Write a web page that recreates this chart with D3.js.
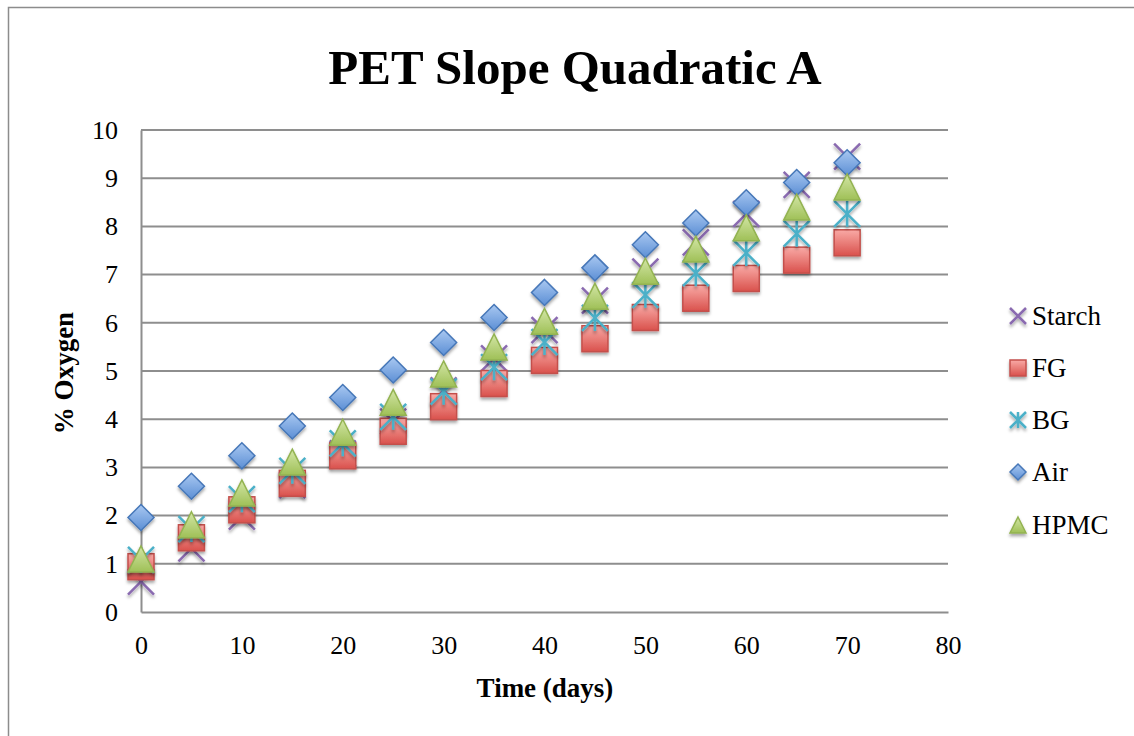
<!DOCTYPE html>
<html>
<head>
<meta charset="utf-8">
<script src="https://cdn.jsdelivr.net/npm/d3@7"></script>
<style>
  html, body { margin: 0; padding: 0; background: #fff; overflow: hidden; }
  text { font-family: "Liberation Serif", "DejaVu Serif", serif; fill: #000; }
</style>
</head>
<body>
<svg id="chart" width="1134" height="736"></svg>
<script>
// PET Slope Quadratic A - scatter of % oxygen over time

const days = [0, 5, 10, 15, 20, 25, 30, 35, 40, 45, 50, 55, 60, 65, 70];
const starch = [0.63, 1.32, 1.98, 2.63, 3.29, 3.95, 4.60, 5.26, 5.85, 6.46, 7.06, 7.67, 8.26, 8.86, 9.45];
const fg     = [0.94, 1.54, 2.12, 2.67, 3.24, 3.75, 4.26, 4.74, 5.22, 5.67, 6.11, 6.51, 6.92, 7.30, 7.66];
const bg     = [1.08, 1.72, 2.34, 2.93, 3.50, 4.05, 4.57, 5.08, 5.60, 6.10, 6.58, 7.03, 7.45, 7.85, 8.26];
const air    = [1.96, 2.61, 3.24, 3.86, 4.45, 5.02, 5.59, 6.11, 6.63, 7.14, 7.62, 8.07, 8.49, 8.91, 9.32];
const hpmc   = [1.10, 1.81, 2.47, 3.11, 3.73, 4.35, 4.94, 5.50, 6.03, 6.55, 7.07, 7.53, 7.97, 8.40, 8.82];

const seriesNames = ['Starch', 'FG', 'BG', 'Air', 'HPMC'];
const xTicks = [0, 10, 20, 30, 40, 50, 60, 70, 80];
const yTicks = [0, 1, 2, 3, 4, 5, 6, 7, 8, 9, 10];

const series = [
  { name: 'Starch', values: starch, shape: 'x' },
  { name: 'FG', values: fg, shape: 'square' },
  { name: 'BG', values: bg, shape: 'star' },
  { name: 'Air', values: air, shape: 'diamond' },
  { name: 'HPMC', values: hpmc, shape: 'triangle' }
];

const svg = d3.select('#chart');
const m = { left: 141, right: 948, top: 130, bottom: 612 };

const x = d3.scaleLinear().domain([0, 80]).range([m.left, m.right]);
const y = d3.scaleLinear().domain([0, 10]).range([m.bottom, m.top]);

// gradients + shadow
const defs = svg.append('defs');
function grad(id, top, bottom) {
  const g = defs.append('linearGradient').attr('id', id)
    .attr('x1', 0).attr('y1', 0).attr('x2', 0).attr('y2', 1);
  g.append('stop').attr('offset', '0%').attr('stop-color', top);
  g.append('stop').attr('offset', '100%').attr('stop-color', bottom);
}
grad('gRed', '#f9aaa6', '#d9514c');
grad('gBlue', '#a9c8f1', '#5c8fd5');
grad('gGreen', '#d3e6a6', '#9fc057');
const f = defs.append('filter').attr('id', 'shadow')
  .attr('x', '-50%').attr('y', '-50%').attr('width', '200%').attr('height', '200%');
f.append('feDropShadow').attr('dx', 0).attr('dy', 2.5).attr('stdDeviation', 1.8)
  .attr('flood-color', '#000').attr('flood-opacity', 0.35);

// chart border
svg.append('path').attr('d', 'M8.5,1000 V7.5 H1200')
  .attr('fill', 'none').attr('stroke', '#8c8c8c').attr('stroke-width', 1.5);

// gridlines
svg.append('g').selectAll('line')
  .data(yTicks.filter(d => d > 0)).enter().append('line')
  .attr('x1', m.left).attr('x2', m.right)
  .attr('y1', d => y(d)).attr('y2', d => y(d))
  .attr('stroke', '#8e8e8e').attr('stroke-width', 2);

// axes (lines only, labels as text)
const xAxis = svg.append('g').attr('transform', `translate(0,${m.bottom})`)
  .call(d3.axisBottom(x).tickValues(xTicks).tickSize(0).tickPadding(24).tickFormat(d3.format('d')));
const yAxis = svg.append('g').attr('transform', `translate(${m.left},0)`)
  .call(d3.axisLeft(y).tickValues(yTicks).tickSize(0).tickPadding(23).tickFormat(d3.format('d')));
[xAxis, yAxis].forEach(a => {
  a.select('.domain').attr('stroke', '#8e8e8e').attr('stroke-width', 2);
  a.selectAll('text').style('font-family', '"Liberation Serif", serif').style('font-size', '26px').attr('fill', '#000');
});
xAxis.selectAll('text').attr('dy', '0.71em');

// titles
svg.append('text').attr('x', 575).attr('y', 84).attr('text-anchor', 'middle')
  .style('font-size', '49px').style('font-weight', 'bold').text('PET Slope Quadratic A');
svg.append('text').attr('x', 545).attr('y', 697).attr('text-anchor', 'middle')
  .style('font-size', '27px').style('font-weight', 'bold').text('Time (days)');
svg.append('text').attr('transform', 'translate(73,373) rotate(-90)').attr('text-anchor', 'middle')
  .style('font-size', '27px').style('font-weight', 'bold').text('% Oxygen');

// marker drawing
function drawMarker(g, shape, s) {
  const h = s / 2;
  if (shape === 'square') {
    g.append('rect').attr('x', -h).attr('y', -h).attr('width', s).attr('height', s)
      .attr('fill', 'url(#gRed)').attr('stroke', '#c4504c').attr('stroke-width', 1.5);
  } else if (shape === 'diamond') {
    g.append('path').attr('d', `M0,${-h}L${h},0L0,${h}L${-h},0Z`)
      .attr('fill', 'url(#gBlue)').attr('stroke', '#4677b8').attr('stroke-width', 1.5);
  } else if (shape === 'triangle') {
    g.append('path').attr('d', `M0,${-h}L${h},${h}L${-h},${h}Z`)
      .attr('fill', 'url(#gGreen)').attr('stroke', '#93b351').attr('stroke-width', 1.5);
  } else if (shape === 'x') {
    g.append('path').attr('d', `M${-h},${-h}L${h},${h}M${-h},${h}L${h},${-h}`)
      .attr('stroke', '#8a6bb0').attr('stroke-width', 2.5).attr('fill', 'none');
  } else if (shape === 'star') {
    g.append('path').attr('d', `M${-h},${-h}L${h},${h}M${-h},${h}L${h},${-h}M0,${-h}L0,${h}`)
      .attr('stroke', '#4bb0c8').attr('stroke-width', 2.5).attr('fill', 'none');
  }
}

const plot = svg.append('g');
series.forEach(s => {
  const g = plot.append('g').attr('filter', 'url(#shadow)');
  days.forEach((d, i) => {
    const mg = g.append('g').attr('transform', `translate(${x(d)},${y(s.values[i])})`);
    drawMarker(mg, s.shape, 26);
  });
});

// legend
const leg = svg.append('g');
const legY = [316, 368, 420, 472, 525];
series.forEach((s, i) => {
  const row = leg.append('g').attr('transform', `translate(1018,${legY[i]})`);
  const mg = row.append('g').attr('filter', 'url(#shadow)');
  drawMarker(mg, s.shape, 16);
  row.append('text').attr('x', 14).attr('y', 9).style('font-size', '27px').text(seriesNames[i]);
});
</script>
</body>
</html>
